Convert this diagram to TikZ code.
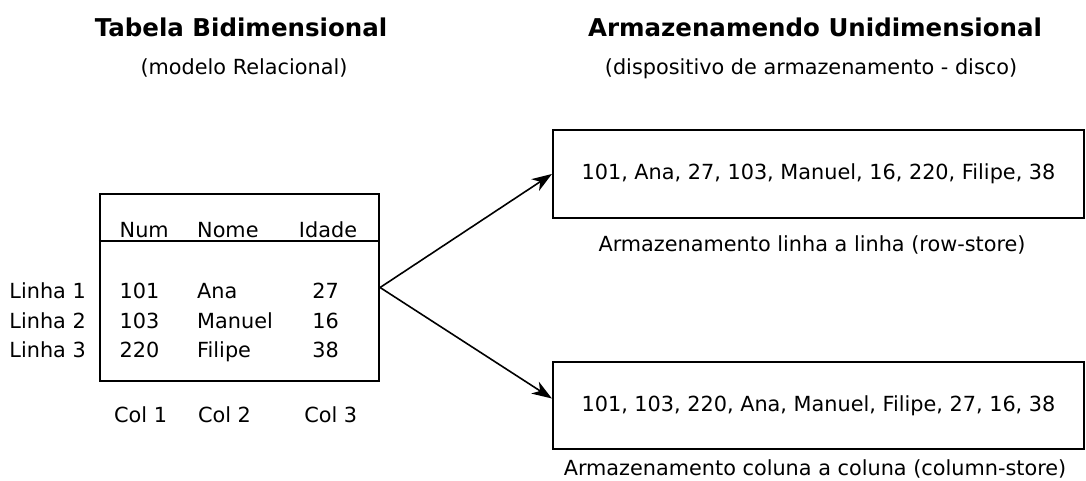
\documentclass[tikz,border=0pt]{standalone}
\usepackage{fontspec}
\setmainfont{DejaVu Sans}
\usetikzlibrary{arrows.meta}
\tikzset{
  txt/.style={inner sep=0pt, anchor=base, font=\fontsize{20.8}{25}\selectfont},
  ttl/.style={inner sep=0pt, anchor=base, font=\fontsize{24.5}{29}\selectfont\bfseries},
  storebox/.style={draw, line width=2.2pt, minimum width=531pt, inner sep=0pt, font=\fontsize{20.8}{25}\selectfont},
  conn/.style={line width=1.6pt, -{Stealth[length=20pt,width=14pt,inset=6pt]}}
}
\begin{document}
\begin{tikzpicture}[x=1pt,y=-1pt]
\useasboundingbox (0,0) rectangle (1086,480);
% titles
\node[ttl] (t1) at (241,36) {Tabela Bidimensional};
\node[txt] (s1) at (244,74) {(modelo Relacional)};
\node[ttl] (t2) at (815,36) {Armazenamendo Unidimensional};
\node[txt] (s2) at (811,74) {(dispositivo de armazenamento - disco)};
% table
\node[draw, line width=2.2pt, minimum width=279pt, minimum height=187pt, inner sep=0pt] (tbl) at (239.5,287.5) {};
\draw[line width=2.2pt] (tbl.west |- 0,241) coordinate (hl) -- (tbl.east |- 0,241) coordinate (hr);
\node[txt, anchor=base west] (hnum) at (119.5,237) {Num};
\node[txt, anchor=base west] (hnome) at (197,237) {Nome};
\node[txt] (hidade) at (328,237) {Idade};
\node[txt, anchor=base west] (n1) at (119.5,298) {101};
\node[txt, anchor=base west] (n2) at (119.5,328) {103};
\node[txt, anchor=base west] (n3) at (119.5,357) {220};
\node[txt, anchor=base west] (m1) at (197,298) {Ana};
\node[txt, anchor=base west] (m2) at (197,328) {Manuel};
\node[txt, anchor=base west] (m3) at (197,357) {Filipe};
\node[txt] (a1) at (325.5,298) {27};
\node[txt] (a2) at (325.5,328) {16};
\node[txt] (a3) at (325.5,357) {38};
\node[txt, anchor=base east] (l1) at (86,298) {Linha 1};
\node[txt, anchor=base east] (l2) at (86,328) {Linha 2};
\node[txt, anchor=base east] (l3) at (86,357) {Linha 3};
\node[txt] (c1) at (140.6,422) {Col 1};
\node[txt] (c2) at (224.5,422) {Col 2};
\node[txt] (c3) at (330.7,422) {Col 3};
% storage boxes
\node[storebox, minimum height=88pt] (rowbox) at (818.5,174) {101, Ana, 27, 103, Manuel, 16, 220, Filipe, 38};
\node[txt] (rowlbl) at (812,251) {Armazenamento linha a linha (row-store)};
\node[storebox, minimum height=87pt] (colbox) at (818.5,405.5) {101, 103, 220, Ana, Manuel, Filipe, 27, 16, 38};
\node[txt] (collbl) at (815,475) {Armazenamento coluna a coluna (column-store)};
% connectors
\draw[conn] (tbl.east) -- (rowbox.west);
\draw[conn] (tbl.east) -- ([yshift=7pt]colbox.west);
\end{tikzpicture}
\end{document}
